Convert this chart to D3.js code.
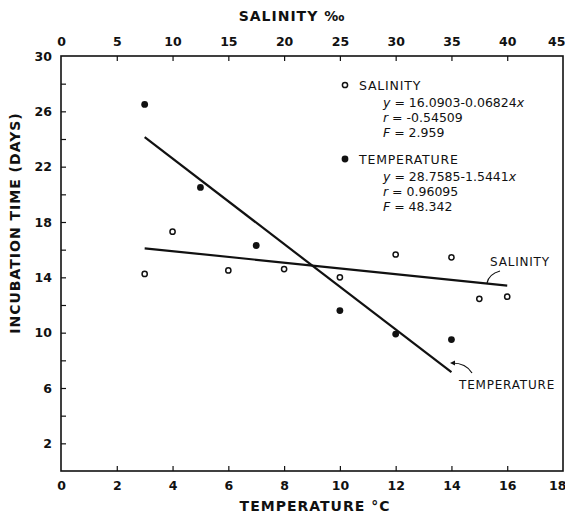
<!DOCTYPE html>
<html><head><meta charset="utf-8">
<script src="https://cdn.jsdelivr.net/npm/d3@7"></script>
<style>
html,body{margin:0;padding:0;background:#fff;}
svg text{font-family:"DejaVu Sans",sans-serif;fill:#111;}
</style></head>
<body><svg id="c" width="565" height="524"></svg>
<script>
// ---- data ----
const tempTicks = [0,2,4,6,8,10,12,14,16,18];
const salTicks = [0,5,10,15,20,25,30,35,40,45];
const yTickLabels = [2,6,10,14,18,22,26,30];
const yMinorTicks = [0,2,4,6,8,10,12,14,16,18,20,22,24,26,28,30];
// temperature series (filled points)
const tempX = [3,5,7,10,12,14];
const tempY = [26.5,20.5,16.3,11.6,9.9,9.5];
// salinity series (open points)
const salX = [7.5,10,15,20,25,30,35,37.5,40];
const salY = [14.25,17.3,14.5,14.6,14.0,15.65,15.45,12.45,12.6];
// fitted lines (endpoints as drawn)
const tempLineX = [3,14];
const tempLineY = [24.13,7.14];
const salLineX = [7.5,40];
const salLineY = [16.1,13.4];

const svg = d3.select("#c");
const L=61,R=563,T=56,B=471;
const x = d3.scaleLinear().domain([0,18]).range([L,R]);
const xs = d3.scaleLinear().domain([0,45]).range([L,R]);
const y = d3.scaleLinear().domain([0,30]).range([B,T]);

const ink="#111";
// frame
svg.append("rect").attr("x",L).attr("y",T).attr("width",R-L).attr("height",B-T)
  .attr("fill","none").attr("stroke",ink).attr("stroke-width",1.6);

// bottom axis
const gb = svg.append("g").attr("transform",`translate(0,${B})`)
  .call(d3.axisBottom(x).tickValues(tempTicks).tickSize(-5).tickPadding(10).tickFormat(d3.format("d")));
// top axis
const gt = svg.append("g").attr("transform",`translate(0,${T})`)
  .call(d3.axisTop(xs).tickValues(salTicks).tickSize(-5).tickPadding(10).tickFormat(d3.format("d")));
// left axis
const gl = svg.append("g").attr("transform",`translate(${L},0)`)
  .call(d3.axisLeft(y).tickValues(yMinorTicks).tickSize(-5).tickPadding(9)
    .tickFormat(d => yTickLabels.includes(d) ? d : ""));
[gb,gt,gl].forEach(g=>{
  g.select(".domain").remove();
  g.selectAll(".tick line").attr("stroke",ink).attr("stroke-width",1.2);
  g.selectAll(".tick text").attr("font-size",12.5).attr("font-weight","bold").attr("fill",ink)
    .style("font-family","DejaVu Sans, sans-serif");
});
gb.selectAll(".tick").filter(d=>d===0||d===18).select("line").remove();
gt.selectAll(".tick").filter(d=>d===0||d===45).select("line").remove();
gl.selectAll(".tick").filter(d=>d===0||d===30).select("line").remove();
// keep the right-edge labels inside the window
gb.selectAll(".tick").filter(d=>d===18).select("text").attr("text-anchor","end").attr("x",3);
gt.selectAll(".tick").filter(d=>d===45).select("text").attr("text-anchor","end").attr("x",2);

// axis titles
svg.append("text").attr("x",315).attr("y",511).attr("text-anchor","middle")
  .attr("font-size",14).attr("font-weight","bold").attr("letter-spacing",1).text("TEMPERATURE °C");
svg.append("text").attr("x",292).attr("y",21).attr("text-anchor","middle")
  .attr("font-size",14).attr("font-weight","bold").attr("letter-spacing",1).text("SALINITY ‰");
svg.append("text").attr("transform","translate(20,223) rotate(-90)").attr("text-anchor","middle")
  .attr("font-size",14).attr("font-weight","bold").attr("letter-spacing",1).text("INCUBATION TIME (DAYS)");

// regression lines
svg.append("line").attr("x1",x(tempLineX[0])).attr("y1",y(tempLineY[0]))
  .attr("x2",x(tempLineX[1])).attr("y2",y(tempLineY[1])).attr("stroke",ink).attr("stroke-width",2.2);
svg.append("line").attr("x1",xs(salLineX[0])).attr("y1",y(salLineY[0]))
  .attr("x2",xs(salLineX[1])).attr("y2",y(salLineY[1])).attr("stroke",ink).attr("stroke-width",2.2);

// points
svg.selectAll(".tp").data(tempX).enter().append("circle")
  .attr("cx",(d)=>x(d)).attr("cy",(d,i)=>y(tempY[i])).attr("r",3.4).attr("fill",ink);
svg.selectAll(".sp").data(salX).enter().append("circle")
  .attr("cx",(d)=>xs(d)).attr("cy",(d,i)=>y(salY[i])).attr("r",2.6)
  .attr("fill","#fff").attr("stroke",ink).attr("stroke-width",1.5);

// legend
const lg = svg.append("g");
lg.append("circle").attr("cx",345).attr("cy",85).attr("r",2.6).attr("fill","#fff").attr("stroke",ink).attr("stroke-width",1.5);
lg.append("text").attr("x",359).attr("y",90).attr("font-size",12.5).attr("letter-spacing",0.8).text("SALINITY");
const eq1 = [["y"," = 16.0903-0.06824",["x"]],["r"," = -0.54509"],["F"," = 2.959"]];
const eq2 = [["y"," = 28.7585-1.5441",["x"]],["r"," = 0.96095"],["F"," = 48.342"]];
function eqs(list, y0){
  list.forEach((e,i)=>{
    const t = lg.append("text").attr("x",383).attr("y",y0+i*15).attr("font-size",12.5);
    t.append("tspan").attr("font-style","italic").text(e[0]);
    t.append("tspan").text(e[1]);
    if(e[2]) t.append("tspan").attr("font-style","italic").text(e[2][0]);
  });
}
eqs(eq1,107);
lg.append("circle").attr("cx",345).attr("cy",159).attr("r",3.4).attr("fill",ink);
lg.append("text").attr("x",359).attr("y",164).attr("font-size",12.5).attr("letter-spacing",0.8).text("TEMPERATURE");
eqs(eq2,181);

// annotations
svg.append("text").attr("x",490).attr("y",266).attr("font-size",12).attr("letter-spacing",0.8).text("SALINITY");
svg.append("path").attr("d","M500,271 Q489,274 487,283").attr("fill","none").attr("stroke",ink).attr("stroke-width",1.2);
svg.append("text").attr("x",459).attr("y",389).attr("font-size",12).attr("letter-spacing",0.8).text("TEMPERATURE");
svg.append("path").attr("d","M472,373 Q466,363 452,363").attr("fill","none").attr("stroke",ink).attr("stroke-width",1.2);
svg.append("path").attr("d","M450,363 L455,360.5 L455,365.5 Z").attr("fill",ink);
</script></body></html>
